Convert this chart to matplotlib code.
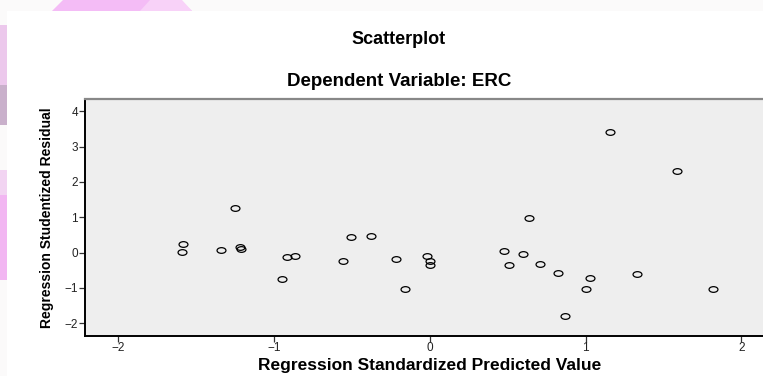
import matplotlib.pyplot as plt
from matplotlib.path import Path
from matplotlib.patches import Polygon, Rectangle

plt.rcParams['font.family'] = ['Liberation Sans', 'DejaVu Sans']

# Regression Standardized Predicted Value (x) vs Studentized Residual (y)
pred = [-1.583, -1.591, -1.340, -1.250, -1.223, -1.214, -0.953, -0.917, -0.867,
        -0.557, -0.507, -0.381, -0.221, -0.159, -0.022, 0.000, 0.000, 0.477,
        0.507, 0.595, 0.638, 0.704, 0.822, 0.869, 0.999, 1.025, 1.158, 1.327,
        1.586, 1.815]
resid = [0.238, 0.020, 0.068, 1.266, 0.153, 0.105, -0.737, -0.130, -0.102,
         -0.227, 0.453, 0.473, -0.178, -1.028, -0.085, -0.227, -0.348, 0.057,
         -0.357, -0.045, 0.975, -0.312, -0.567, -1.802, -1.037, -0.717, 3.411,
         -0.603, 2.323, -1.037]
xticks = [-2, -1, 0, 1, 2]
yticks = [-2, -1, 0, 1, 2, 3, 4]

W, H = 763, 376
fig = plt.figure(figsize=(W / 100, H / 100), dpi=100, facecolor='#fbfafa')


def px(x, y):
    # pixel coords (from top-left) -> figure fraction
    return (x / W, 1 - y / H)


# slide background decoration (pink pattern behind the white panel)
deco = [
    ([(52, 11), (63, 0), (180, 0), (192, 11)], '#f4bcf6'),
    ([(140, 11), (150, 0), (182, 0), (192, 11)], '#f8d2f8'),
    ([(0, 25), (7, 25), (7, 85), (0, 85)], '#ecc8ec'),
    ([(0, 85), (7, 85), (7, 125), (0, 125)], '#c9b0cb'),
    ([(0, 170), (7, 170), (7, 195), (0, 195)], '#f2d4f2'),
    ([(0, 195), (7, 195), (7, 280), (0, 280)], '#f2b6f2'),
]
for pts, c in deco:
    fig.patches.append(Polygon([px(*p) for p in pts], closed=True, facecolor=c,
                               edgecolor='none', transform=fig.transFigure, zorder=-2))
x0, y0 = px(7, 376)
x1, y1 = px(763, 11)
fig.patches.append(Rectangle((x0, y0), x1 - x0, y1 - y0, facecolor='white',
                             edgecolor='none', transform=fig.transFigure, zorder=-1))

# axes extends past the right edge of the picture (cropped)
left, right, top, bottom = 85, 772, 98.7, 335.5
ax = fig.add_axes([left / W, 1 - bottom / H, (right - left) / W, (bottom - top) / H])
ax.set_facecolor('#eeeeee')

# slightly squashed open circle, like the stretched original
circ = Path.unit_circle()
ellipse = Path(circ.vertices * [1.0, 0.64], circ.codes)
ax.plot(pred, resid, linestyle='none', marker=ellipse, markersize=6.4,
        markerfacecolor='none', markeredgecolor='black', markeredgewidth=0.9)

ax.set_xlim(-2.215, 2.196)
ax.set_ylim(-2.35, 4.36)
ax.set_xticks(xticks)
ax.set_yticks(yticks)
ax.tick_params(axis='both', direction='out', length=4, width=0.9, color='#333333',
               labelsize=8.5, labelcolor='#222222', pad=1.0)

for side in ['left', 'bottom']:
    ax.spines[side].set_linewidth(1.4)
    ax.spines[side].set_color('black')
ax.spines['top'].set_linewidth(1.6)
ax.spines['top'].set_color('#888888')
ax.spines['right'].set_visible(False)

cx = 399 / W
fig.text(cx, px(0, 44)[1], 'Scatterplot', ha='center', va='baseline',
         fontsize=13, fontweight='bold')
fig.text(cx, px(0, 86)[1], 'Dependent Variable: ERC', ha='center', va='baseline',
         fontsize=13.5, fontweight='bold')
fig.text(430 / W, px(0, 370)[1], 'Regression Standardized Predicted Value',
         ha='center', va='baseline', fontsize=12.5, fontweight='bold')
fig.text(47 / W, px(0, 218)[1], 'Regression Studentized Residual', ha='center',
         va='center', rotation=90, fontsize=10, fontweight='bold')

plt.savefig('out.png', dpi=100, facecolor=fig.get_facecolor())
